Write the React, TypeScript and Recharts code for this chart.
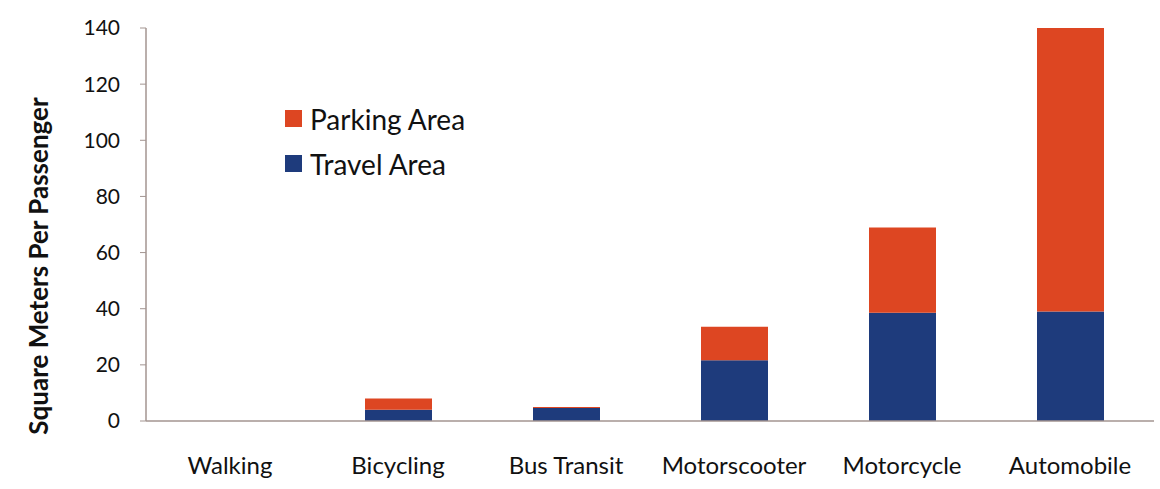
import { BarChart, Bar, XAxis, YAxis } from "recharts";

const categories = ["Walking", "Bicycling", "Bus Transit", "Motorscooter", "Motorcycle", "Automobile"];
const travelArea = [0, 4, 4.6, 21.6, 38.6, 39];
const parkingArea = [0, 4, 0.4, 12, 30.3, 101];
const yTicks = [0, 20, 40, 60, 80, 100, 120, 140];

const RED = "#dd4622";
const BLUE = "#1e3b7c";
const AXIS = "#a39591";
const FONT = "Lato, 'Open Sans', sans-serif";

const data = categories.map((name, i) => ({
  name,
  travel: travelArea[i],
  parking: parkingArea[i],
}));

const legendItems = [
  { label: "Parking Area", color: RED },
  { label: "Travel Area", color: BLUE },
];

// legend sits inside the plot, top-left
const LegendBox = () => (
  <div
    style={{
      position: "absolute",
      left: 285,
      top: 96,
      fontFamily: FONT,
      fontSize: 28,
      color: "#111",
    }}
  >
    {legendItems.map((it) => (
      <div key={it.label} style={{ display: "flex", alignItems: "center", height: 45 }}>
        <span style={{ width: 17, height: 17, background: it.color, marginRight: 8 }} />
        {it.label}
      </div>
    ))}
  </div>
);

const YTitle = () => (
  <text
    x={38}
    y={266}
    transform="rotate(-90 38 266)"
    textAnchor="middle"
    dominantBaseline="central"
    fontFamily={FONT}
    fontWeight="bold"
    fontSize={26}
    fill="#111"
  >
    Square Meters Per Passenger
  </text>
);

export default function App() {
  return (
    <div style={{ position: "absolute", left: 0, top: 0, width: 1160, height: 489, background: "#fff" }}>
      <BarChart
        width={1160}
        height={489}
        data={data}
        margin={{ top: 28, right: 6, left: 0, bottom: 38 }}
        barSize={67}
      >
        <XAxis
          dataKey="name"
          height={30}
          axisLine={{ stroke: AXIS, strokeWidth: 1.5 }}
          tickLine={false}
          tickMargin={30}
          tick={{ fill: "#111", fontSize: 24, fontFamily: FONT }}
          interval={0}
        />
        <YAxis
          width={146}
          domain={[0, 140]}
          ticks={yTicks}
          interval={0}
          axisLine={{ stroke: AXIS, strokeWidth: 1.5 }}
          tickLine={{ stroke: AXIS }}
          tickSize={6}
          tickMargin={20}
          tick={{ fill: "#111", fontSize: 21, fontFamily: FONT }}
          label={<YTitle />}
        />
        <Bar dataKey="travel" name="Travel Area" stackId="a" fill={BLUE} isAnimationActive={false} />
        <Bar dataKey="parking" name="Parking Area" stackId="a" fill={RED} isAnimationActive={false} />
      </BarChart>
      <LegendBox />
    </div>
  );
}
